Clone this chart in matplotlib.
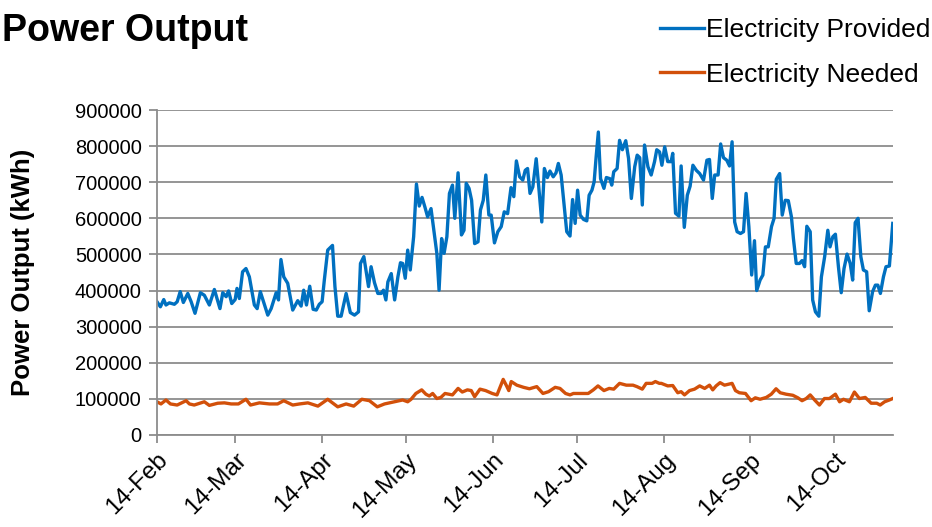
import numpy as np
import matplotlib
matplotlib.use("Agg")
import matplotlib.pyplot as plt
import matplotlib.dates as mdates
from matplotlib.ticker import FuncFormatter

plt.rcParams["font.family"] = ["Liberation Sans", "DejaVu Sans"]

START = np.datetime64("2014-02-14")

# days after 14-Feb, power in kWh
provided_day = [
    0, 1.2, 2.4, 3.2, 4.4, 6.2, 7.2, 8.3, 9.4, 11.0,
    12.2, 13.6, 15.5, 16.9, 18.7, 20.5, 22.5, 23.5, 24.7, 25.6,
    26.7, 27.9, 28.6, 29.4, 30.6, 31.8, 33.0, 34.8, 35.8, 36.9,
    38.1, 39.6, 40.8, 42.6, 43.4, 44.3, 45.3, 46.7, 48.5, 50.3,
    51.5, 52.4, 53.4, 54.6, 55.8, 56.9, 58.0, 59.0, 59.8, 61.0,
    62.7, 63.6, 64.6, 65.8, 67.6, 69.1, 70.6, 72.0, 72.7, 73.9,
    75.6, 76.5, 77.7, 78.9, 80.1, 80.9, 81.8, 82.5, 83.7, 84.9,
    86.1, 87.0, 87.8, 88.7,
    89.6, 90.5, 91.7, 92.7, 93.7, 94.7, 95.7, 96.7, 97.9, 99.1,
    100.0, 100.8, 101.7, 102.6, 103.6, 104.5, 105.6, 106.4, 107.6, 108.8,
    109.7, 110.5, 111.5, 112.4, 113.5, 114.7, 115.6, 116.6, 117.5, 118.6,
    119.4, 120.6, 121.8, 123.0, 124.1, 125.3, 126.5, 127.5, 128.4, 129.6,
    130.7, 131.6, 132.4, 133.3, 134.3, 135.5, 136.4, 137.5, 138.4, 139.5,
    140.4, 141.6, 142.6, 143.4, 144.4, 145.4, 146.4, 147.6, 148.5, 149.4,
    150.3, 151.2, 152.4, 153.6, 154.4, 155.4, 156.2, 156.9, 157.7, 158.5,
    159.7, 160.6, 161.8, 162.5, 163.2, 164.4, 165.3, 166.3, 167.5, 168.5,
    169.5, 170.7, 171.6, 172.5,
    173.4, 174.2, 175.4, 176.6, 177.8, 178.6, 179.6, 180.4, 181.4, 182.5,
    183.7, 184.3, 185.3, 186.5, 187.3, 188.4, 189.5, 190.5, 191.5, 192.7,
    193.9, 195.3, 196.5, 197.4, 198.4, 199.3, 200.5, 201.4, 202.4, 203.6,
    204.6, 205.5, 206.4, 207.3, 208.5, 209.6, 210.5, 211.5, 212.5, 213.5,
    214.3, 215.5, 216.5, 217.4, 218.4, 219.6, 220.5, 221.3, 222.5, 223.4,
    224.5, 225.6, 226.7, 227.4, 228.4, 229.6, 230.5, 231.4, 232.2, 233.4,
    234.3, 235.3, 236.5, 237.4, 238.6, 239.7, 240.5, 241.5, 242.4, 243.5,
    244.5, 245.5, 246.6, 247.7, 248.6, 249.5, 250.5, 251.5, 252.4, 253.6,
    254.5, 255.7, 256.7, 257.6, 258.5, 259.6, 260.5, 261.7, 262.9,
]
provided_k = [
    369, 355, 375, 360, 366, 362, 369, 397, 367, 392,
    369, 337, 394, 387, 360, 403, 350, 394, 383, 399,
    364, 375, 406, 378, 452, 461, 438, 360, 350, 397,
    369, 332, 350, 394, 374, 486, 438, 420, 346, 372,
    357, 401, 360, 412, 348, 346, 362, 369, 429, 512,
    525, 411, 329, 329, 392, 339, 332, 341, 475, 494,
    411, 466, 422, 392, 392, 401, 374, 424, 447, 374,
    438, 477, 475, 434,
    512, 457, 549, 695, 634, 658, 632, 604, 627, 558,
    503, 401, 544, 503, 549, 669, 692, 600, 726, 554,
    567, 697, 683, 650, 530, 535, 623, 650, 720, 609,
    609, 532, 563, 577, 618, 613, 685, 660, 759, 715,
    706, 733, 738, 669, 687, 765, 687, 590, 738, 713,
    731, 715, 726, 752, 720, 641, 563, 551, 652, 586,
    678, 609, 597, 593, 664, 678, 701, 770, 839, 710,
    683, 713, 710, 692, 729, 738, 816, 790, 815, 766,
    655, 743, 775, 768,
    637, 803, 743, 720, 757, 790, 784, 747, 798, 757,
    757, 780, 614, 606, 745, 575, 664, 689, 747, 733,
    724, 706, 761, 763, 655, 720, 720, 806, 768, 761,
    745, 812, 590, 563, 558, 563, 669, 577, 443, 538,
    400, 429, 443, 521, 521, 577, 600, 708, 724, 609,
    650, 649, 604, 544, 475, 475, 483, 466, 578, 563,
    374, 341, 329, 438, 494, 567, 521, 549, 556, 466,
    394, 461, 501, 475, 429, 588, 600, 494, 457, 452,
    344, 397, 415, 415, 392, 438, 466, 468, 586,
]

needed_day = [
    0, 1.4, 3.2, 4.8, 7.2, 10.4, 11.6, 13.3, 16.9, 18.7,
    21.7, 24.1, 26.5, 29.1, 31.8, 33.4, 36.6, 40.2, 43.1, 45.3,
    48.5, 50.9, 53.9, 57.5, 61.0, 64.6, 67.6, 70.3, 73.2, 75.9,
    78.7, 81.3, 84.9, 87.8,
    89.6, 90.8, 92.5, 94.6, 96.1, 97.3, 98.5, 100.0, 101.4, 102.9,
    105.6, 107.6, 109.1, 110.9, 112.3, 113.5, 115.4, 117.4, 119.8, 121.5,
    123.7, 124.9, 125.7, 126.6, 128.6, 131.0, 133.1, 135.7, 137.9, 139.9,
    142.3, 144.0, 146.0, 147.6, 148.8, 151.1, 154.1, 155.9, 157.6, 159.7,
    161.6, 163.2, 165.3, 167.7, 170.1, 171.5, 173.4, 174.8, 176.9, 178.1,
    179.5,
    180.2, 182.5, 184.3, 186.1, 187.3, 188.5, 190.3, 192.1, 193.9, 195.7,
    197.4, 198.6, 199.8, 201.2, 202.8, 205.5, 206.7, 208.1, 210.3, 212.3,
    213.8, 215.5, 217.7, 219.5, 221.2, 222.7, 224.8, 227.2, 229.0, 230.5,
    232.0, 233.4, 235.0, 236.7, 238.5, 240.3, 242.4, 243.9, 245.3, 247.4,
    249.2, 251.0, 253.1, 255.2, 257.2, 258.4, 260.0, 261.7, 262.9,
]
needed_k = [
    92, 86, 97, 86, 83, 95, 86, 83, 92, 82,
    88, 89, 86, 86, 99, 83, 89, 86, 86, 95,
    83, 86, 89, 80, 99, 78, 86, 80, 99, 95,
    78, 86, 92, 97,
    92, 99, 115, 125, 113, 108, 115, 101, 104, 115,
    111, 129, 119, 125, 123, 106, 127, 123, 115, 111,
    154, 136, 123, 148, 138, 132, 128, 134, 115, 120,
    132, 129, 115, 111, 115, 115, 115, 125, 136, 123,
    129, 127, 143, 138, 138, 134, 127, 143, 143, 148,
    143,
    143, 136, 137, 117, 120, 111, 123, 127, 136, 129,
    138, 125, 136, 145, 138, 143, 123, 117, 115, 95,
    103, 99, 104, 113, 128, 117, 113, 110, 103, 95,
    101, 111, 97, 83, 101, 101, 113, 92, 99, 92,
    119, 101, 104, 88, 88, 83, 92, 97, 101,
]

y_ticks = list(range(0, 900001, 100000))


def to_dates(days):
    hours = np.round(np.array(days) * 24).astype("timedelta64[h]")
    return START + hours


fig = plt.figure(figsize=(9.32, 5.27), dpi=100)
ax = fig.add_axes([157 / 932, 1 - 435 / 527, (893 - 157) / 932, (435 - 110) / 527])

ax.plot(to_dates(provided_day), np.array(provided_k) * 1000, color="#0070C0",
        lw=2.4, label="Electricity Provided", solid_joinstyle="round")
ax.plot(to_dates(needed_day), np.array(needed_k) * 1000, color="#D2500A",
        lw=2.4, label="Electricity Needed", solid_joinstyle="round")

ax.set_xlim(START, START + np.timedelta64(263, "D"))
ax.set_ylim(0, 900000)
ax.set_yticks(y_ticks)
ax.yaxis.set_major_formatter(FuncFormatter(lambda v, p: f"{int(v)}"))
ax.xaxis.set_major_locator(mdates.MonthLocator(bymonthday=14))
ax.xaxis.set_major_formatter(mdates.DateFormatter("%d-%b"))

grid_c = "#8C8C8C"
ax.grid(axis="y", color=grid_c, lw=1.3)
ax.set_axisbelow(True)
for s in ["top", "right"]:
    ax.spines[s].set_visible(False)
for s in ["left", "bottom"]:
    ax.spines[s].set_color(grid_c)
    ax.spines[s].set_linewidth(1.3)
ax.tick_params(axis="both", colors=grid_c, length=6, width=1.3, labelcolor="black")
ax.tick_params(axis="y", labelsize=14.5, pad=5)
ax.tick_params(axis="x", labelsize=17.5, pad=4)
plt.setp(ax.get_xticklabels(), rotation=45, ha="right", rotation_mode="anchor")

ax.set_ylabel("Power Output (kWh)", fontsize=18.5, fontweight="bold")
ax.yaxis.set_label_coords(-0.166, 0.5)

# title kept fully on the canvas, ending where the reference title ends
fig.text(248 / 932, 1 - 31 / 527, "Power Output", ha="right", va="center",
         fontsize=27, fontweight="bold")

fig.legend(loc="upper left", bbox_to_anchor=(660 / 932, 1 - 18 / 527),
           frameon=False, fontsize=19, handlelength=1.65, handletextpad=0.1,
           borderpad=0, borderaxespad=0, labelspacing=0.78)

fig.savefig("out.png", dpi=100, facecolor="white")
